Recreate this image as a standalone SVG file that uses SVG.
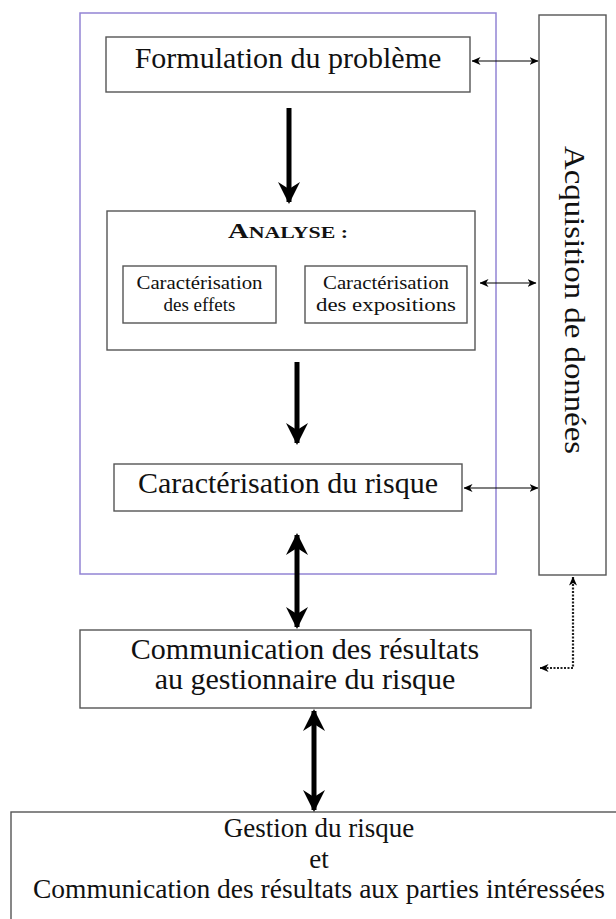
<svg xmlns="http://www.w3.org/2000/svg" width="616" height="919" viewBox="0 0 616 919">
  <style>
    .box { fill: #ffffff; stroke: #555555; stroke-width: 1.4; }
    .frame { fill: none; stroke: #9284d4; stroke-width: 1.5; }
    .t { font-family: "Liberation Serif", "Times New Roman", serif; fill: #111111; text-anchor: middle; }
    .sub { font-size: 19px; }
    .big { stroke: #000000; stroke-width: 5; fill: none; }
    .thin { stroke: #000000; stroke-width: 1.2; fill: none; }
    .dot { stroke: #222222; stroke-width: 2.2; stroke-dasharray: 2 1.5; fill: none; }
  </style>
  <defs>
    <marker id="bigHead" markerUnits="userSpaceOnUse" markerWidth="22" markerHeight="22" refX="20" refY="11" orient="auto-start-reverse">
      <path d="M0,0 L22,11 L0,22 L7,11 Z" fill="#000000"/>
    </marker>
    <marker id="smallHead" markerUnits="userSpaceOnUse" markerWidth="9" markerHeight="8" refX="8.5" refY="4" orient="auto-start-reverse">
      <path d="M0,0 L9,4 L0,8 L2.5,4 Z" fill="#000000"/>
    </marker>
  </defs>

  <!-- assessment frame -->
  <rect class="frame" x="80" y="13" width="416" height="561"/>

  <g id="formulation">
    <rect class="box" x="106" y="37" width="364" height="55"/>
    <text class="t" x="288" y="68" font-size="30">Formulation du problème</text>
  </g>

  <g id="analyse">
    <rect class="box" x="107" y="211" width="368" height="139"/>
    <text class="t" x="288" y="238" font-weight="bold" textLength="120" lengthAdjust="spacingAndGlyphs"><tspan font-size="21">A</tspan><tspan font-size="16">NALYSE :</tspan></text>
  </g>

  <g id="effets">
    <rect class="box" x="123" y="266" width="153" height="57"/>
    <text class="t sub" x="199.5" y="289" textLength="126" lengthAdjust="spacingAndGlyphs">Caractérisation</text>
    <text class="t sub" x="199.5" y="311">des effets</text>
  </g>

  <g id="expositions">
    <rect class="box" x="305" y="266" width="162" height="57"/>
    <text class="t sub" x="386" y="289" textLength="126" lengthAdjust="spacingAndGlyphs">Caractérisation</text>
    <text class="t sub" x="386" y="311" textLength="140" lengthAdjust="spacingAndGlyphs">des expositions</text>
  </g>

  <g id="risque">
    <rect class="box" x="114" y="464" width="348" height="47"/>
    <text class="t" x="288" y="493" font-size="30">Caractérisation du risque</text>
  </g>

  <g id="acquisition">
    <rect class="box" x="539" y="15" width="67" height="560"/>
    <text class="t" transform="translate(565,300) rotate(90)" x="0" y="0" font-size="30" textLength="308" lengthAdjust="spacingAndGlyphs">Acquisition de données</text>
  </g>

  <g id="communication">
    <rect class="box" x="80" y="630" width="451" height="78"/>
    <text class="t" x="305" y="659" font-size="30">Communication des résultats</text>
    <text class="t" x="305" y="689" font-size="30">au gestionnaire du risque</text>
  </g>

  <g id="gestion">
    <rect class="box" x="11" y="812" width="620" height="120"/>
    <text class="t" x="319" y="837" font-size="27">Gestion du risque</text>
    <text class="t" x="319" y="868" font-size="27">et</text>
    <text class="t" x="319" y="898" font-size="27" textLength="572" lengthAdjust="spacingAndGlyphs">Communication des résultats aux parties intéressées</text>
  </g>

  <g id="connectors">
    <line class="big" x1="289" y1="108" x2="289" y2="202" marker-end="url(#bigHead)"/>
    <line class="big" x1="297" y1="362" x2="297" y2="443" marker-end="url(#bigHead)"/>
    <line class="big" x1="297" y1="535" x2="297" y2="627" marker-start="url(#bigHead)" marker-end="url(#bigHead)"/>
    <line class="big" x1="314" y1="711" x2="314" y2="810" marker-start="url(#bigHead)" marker-end="url(#bigHead)"/>

    <line class="thin" x1="472" y1="61" x2="538" y2="61" marker-start="url(#smallHead)" marker-end="url(#smallHead)"/>
    <line class="thin" x1="480" y1="283" x2="536" y2="283" marker-start="url(#smallHead)" marker-end="url(#smallHead)"/>
    <line class="thin" x1="464" y1="488" x2="538" y2="488" marker-start="url(#smallHead)" marker-end="url(#smallHead)"/>

    <polyline class="dot" points="573,577 573,668 540,668" marker-start="url(#smallHead)" marker-end="url(#smallHead)"/>
  </g>
</svg>
